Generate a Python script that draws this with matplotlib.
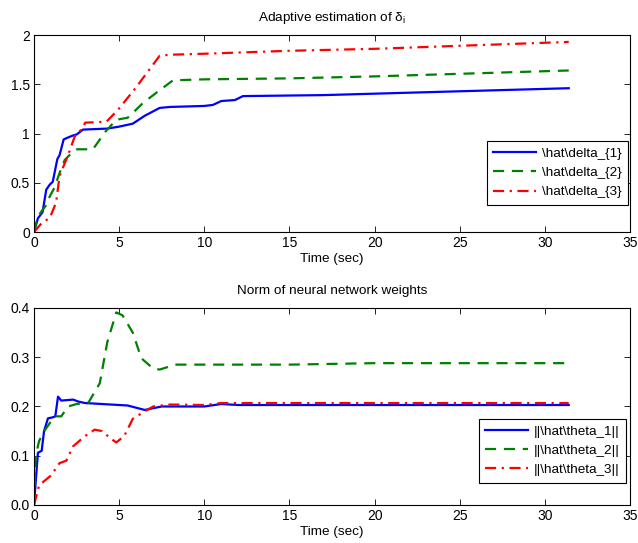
import matplotlib
matplotlib.use("Agg")
import matplotlib.pyplot as plt

plt.rcParams["font.family"] = ["Liberation Sans", "DejaVu Sans"]
plt.rcParams["mathtext.fontset"] = "custom"
plt.rcParams["mathtext.rm"] = "Liberation Sans"

# Adaptive estimates of delta_i
t_d1 = [0, 0.23, 0.5, 0.72, 0.92, 1.1, 1.37, 1.5, 1.74, 2.0, 2.29, 2.5, 2.88, 4.3, 5.0, 5.8,
        6.5, 7.38, 8.0, 10.0, 10.5, 11.0, 11.8, 12.27, 17.0, 31.4]
d1 = [0, 0.14, 0.2, 0.43, 0.48, 0.51, 0.74, 0.78, 0.94, 0.96, 0.98, 0.99, 1.04, 1.05, 1.07, 1.10,
      1.18, 1.26, 1.27, 1.28, 1.29, 1.33, 1.34, 1.38, 1.39, 1.46]

t_d2 = [0, 0.23, 0.7, 0.92, 1.2, 1.5, 1.8, 2.19, 2.52, 3.46, 4.2, 4.83, 5.5, 6.4, 7.38, 8.16,
        10.0, 15.0, 20.0, 31.4]
d2 = [0, 0.16, 0.27, 0.36, 0.45, 0.6, 0.73, 0.8, 0.84, 0.84, 1.02, 1.14, 1.16, 1.31, 1.44, 1.54,
      1.55, 1.56, 1.58, 1.64]

t_d3 = [0, 0.5, 0.92, 1.3, 1.5, 2.0, 2.39, 2.88, 3.0, 4.25, 4.93, 6.0, 7.38, 8.0, 10.0, 15.0,
        20.0, 31.4]
d3 = [0, 0.1, 0.14, 0.3, 0.57, 0.78, 0.97, 1.06, 1.11, 1.12, 1.24, 1.47, 1.79, 1.80, 1.81, 1.84,
      1.86, 1.93]

# Norms of NN weight estimates
t_w1 = [0, 0.15, 0.23, 0.45, 0.59, 0.82, 1.1, 1.25, 1.41, 1.6, 2.3, 2.6, 3.0, 4.0, 5.5, 6.5,
        7.5, 10.0, 11.0, 12.0, 31.4]
w1 = [0, 0.07, 0.106, 0.11, 0.15, 0.176, 0.178, 0.18, 0.22, 0.212, 0.214, 0.21, 0.207, 0.205,
      0.202, 0.193, 0.2, 0.2, 0.205, 0.203, 0.203]

t_w2 = [0, 0.1, 0.3, 0.6, 0.92, 1.2, 1.6, 2.0, 2.5, 3.2, 3.86, 4.3, 4.83, 5.2, 5.8, 6.3, 7.0,
        7.38, 8.3, 15.0, 20.0, 31.4]
w2 = [0, 0.1, 0.13, 0.15, 0.166, 0.18, 0.18, 0.2, 0.205, 0.208, 0.247, 0.33, 0.391, 0.385,
      0.35, 0.298, 0.277, 0.275, 0.285, 0.285, 0.288, 0.288]

t_w3 = [0, 0.3, 1.0, 1.5, 1.9, 2.29, 3.0, 3.56, 4.0, 4.5, 4.83, 5.3, 5.8, 6.5, 7.0, 8.0, 10.0,
        11.0, 31.4]
w3 = [0, 0.04, 0.06, 0.085, 0.09, 0.119, 0.14, 0.153, 0.15, 0.135, 0.127, 0.14, 0.175, 0.19,
      0.2, 0.204, 0.203, 0.207, 0.207]

labels_top = [r"\hat\delta_{1}", r"\hat\delta_{2}", r"\hat\delta_{3}"]
labels_bot = [r"||\hat\theta_1||", r"||\hat\theta_2||", r"||\hat\theta_3||"]

fig = plt.figure(figsize=(6.38, 5.43), dpi=100)
ax1 = fig.add_axes([0.0533, 0.5727, 0.9342, 0.3628])
ax2 = fig.add_axes([0.0533, 0.0700, 0.9342, 0.3628])

styles = [dict(color="#0000ff", ls="-", lw=1.6),
          dict(color="#008000", ls="--", lw=1.6, dashes=(5, 3.5)),
          dict(color="#ff0000", ls="-.", lw=1.6, dashes=(5, 2.5, 1, 2.5))]

for (t, y), lab, st in zip([(t_d1, d1), (t_d2, d2), (t_d3, d3)], labels_top, styles):
    ax1.plot(t, y, label=lab, **st)
for (t, y), lab, st in zip([(t_w1, w1), (t_w2, w2), (t_w3, w3)], labels_bot, styles):
    ax2.plot(t, y, label=lab, **st)

ax1.set_ylim(0, 2)
ax1.set_yticks([0, 0.5, 1, 1.5, 2])
ax1.set_yticklabels(["0", "0.5", "1", "1.5", "2"])
ax2.set_ylim(0, 0.4)
ax2.set_yticks([0, 0.1, 0.2, 0.3, 0.4])

ax1.set_title("Adaptive estimation of δ$_\\mathregular{i}$", fontsize=9.7, pad=10)
ax2.set_title("Norm of neural network weights", fontsize=9.7, pad=10)

leg_anchor = {ax1: (0.997, 0.137), ax2: (0.994, 0.112)}
for ax in (ax1, ax2):
    ax.set_xlim(0, 35)
    ax.set_xticks(range(0, 36, 5))
    ax.set_xlabel("Time (sec)", fontsize=9.7, labelpad=2)
    ax.tick_params(direction="in", top=True, right=True, labelsize=10, length=4, width=0.6, pad=3)
    for sp in ax.spines.values():
        sp.set_linewidth(0.8)
    leg = ax.legend(loc="lower right", bbox_to_anchor=leg_anchor[ax], fontsize=9.7, fancybox=False,
                    framealpha=1, edgecolor="black", borderpad=0.5, handlelength=3.2,
                    labelspacing=0.5, handletextpad=0.4, borderaxespad=0)
    leg.get_frame().set_linewidth(0.8)

fig.savefig("out.png", dpi=100)
